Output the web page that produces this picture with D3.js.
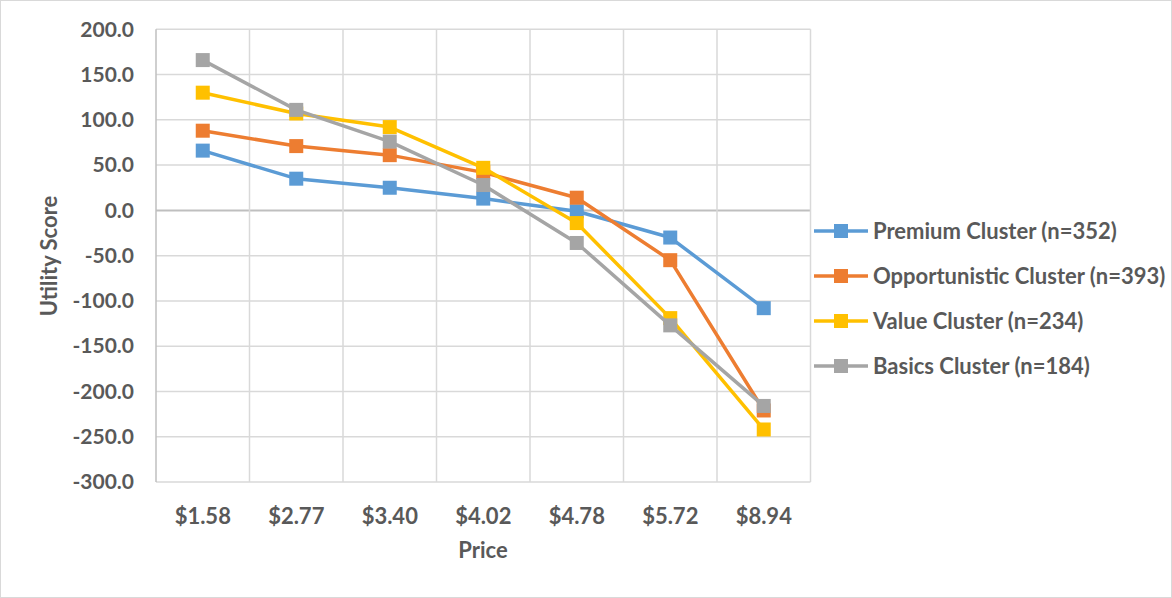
<!DOCTYPE html>
<html><head><meta charset="utf-8">
<script src="https://cdn.jsdelivr.net/npm/d3@7"></script>
<style>body{margin:0;background:#fff}svg{display:block}text{font-family:Lato,"Open Sans",sans-serif;font-weight:bold;fill:#595959}</style>
</head><body>
<svg id="chart" width="1172" height="598"></svg>
<script>
const categories = ["$1.58","$2.77","$3.40","$4.02","$4.78","$5.72","$8.94"];
const seriesNames = ["Premium Cluster (n=352)","Opportunistic Cluster (n=393)","Value Cluster (n=234)","Basics Cluster (n=184)"];
const premium = [66, 35, 25, 13, -1, -30, -108];
const opportunistic = [88, 71, 61, 42, 14, -55, -221];
const value = [130, 107, 92, 47, -14, -119, -242];
const basics = [166, 111, 76, 28, -36, -127, -216];
const yTicks = [200,150,100,50,0,-50,-100,-150,-200,-250,-300];
const colors = ["#5B9BD5","#ED7D31","#FFC000","#A5A5A5"];

const svg = d3.select("#chart");
svg.append("rect").attr("x",0.5).attr("y",0.5).attr("width",1171).attr("height",597).attr("fill","#fff").attr("stroke","#D9D9D9");

const L=156, R=810.5, T=29.3, B=482;
const x = d3.scaleBand().domain(categories).range([L,R]);
const y = d3.scaleLinear().domain([-300,200]).range([B,T]);

// horizontal grid
svg.append("g").selectAll("line").data(yTicks).join("line")
  .attr("x1",L).attr("x2",R).attr("y1",d=>y(d)).attr("y2",d=>y(d))
  .attr("stroke",d=>d===0?"#BFBFBF":"#D9D9D9").attr("stroke-width",d=>d===0?2:1.5);
// vertical grid at category boundaries
const bounds = categories.map(c=>x(c)).concat([R]);
svg.append("g").selectAll("line").data(bounds.slice(1)).join("line")
  .attr("x1",d=>d).attr("x2",d=>d).attr("y1",T).attr("y2",B)
  .attr("stroke","#D9D9D9").attr("stroke-width",1.5);
// left axis line
svg.append("line").attr("x1",L).attr("x2",L).attr("y1",T).attr("y2",B).attr("stroke","#BFBFBF").attr("stroke-width",1.5);

// y axis labels
const fmt = d3.format(".1f");
const yAxis = d3.axisLeft(y).tickValues(yTicks).tickFormat(d=>fmt(d).replace("\u2212","-")).tickSize(0).tickPadding(22);
const ya = svg.append("g").attr("transform",`translate(${L},0)`).call(yAxis);
ya.select(".domain").remove();
ya.selectAll("text").attr("font-size",21).attr("fill","#595959").style("font-family","Lato").attr("font-weight","bold");

// x axis labels at bottom
const xAxis = d3.axisBottom(x).tickSize(0).tickPadding(0);
const xa = svg.append("g").attr("transform",`translate(0,${B})`).call(xAxis);
xa.select(".domain").remove();
xa.selectAll("text").attr("font-size",22).attr("dy",null).attr("y",42).attr("fill","#595959").style("font-family","Lato").attr("font-weight","bold");

// axis titles
svg.append("text").attr("x",483).attr("y",558).attr("text-anchor","middle").attr("font-size",22).text("Price");
svg.append("text").attr("transform","translate(57,256) rotate(-90)").attr("text-anchor","middle").attr("font-size",22).text("Utility Score");

const data = [premium, opportunistic, value, basics];
const cx = c => x(c) + x.bandwidth()/2;
const line = d3.line().x((d,i)=>cx(categories[i])).y(d=>y(d));
const MS = 14;
data.forEach((vals,si)=>{
  const g = svg.append("g");
  g.append("path").attr("d",line(vals)).attr("fill","none").attr("stroke",colors[si]).attr("stroke-width",3.5).attr("stroke-linejoin","round");
  g.selectAll("rect").data(vals).join("rect")
    .attr("x",(d,i)=>cx(categories[i])-MS/2).attr("y",d=>y(d)-MS/2)
    .attr("width",MS).attr("height",MS).attr("fill",colors[si]);
});

// legend
const legY = [231,276,321,366];
const lg = svg.append("g");
seriesNames.forEach((n,i)=>{
  lg.append("line").attr("x1",814).attr("x2",868).attr("y1",legY[i]).attr("y2",legY[i]).attr("stroke",colors[i]).attr("stroke-width",3.5);
  lg.append("rect").attr("x",841-MS/2).attr("y",legY[i]-MS/2).attr("width",MS).attr("height",MS).attr("fill",colors[i]);
  lg.append("text").attr("x",873).attr("y",legY[i]).attr("dy","0.35em").attr("font-size",22).text(n);
});
</script>
</body></html>
